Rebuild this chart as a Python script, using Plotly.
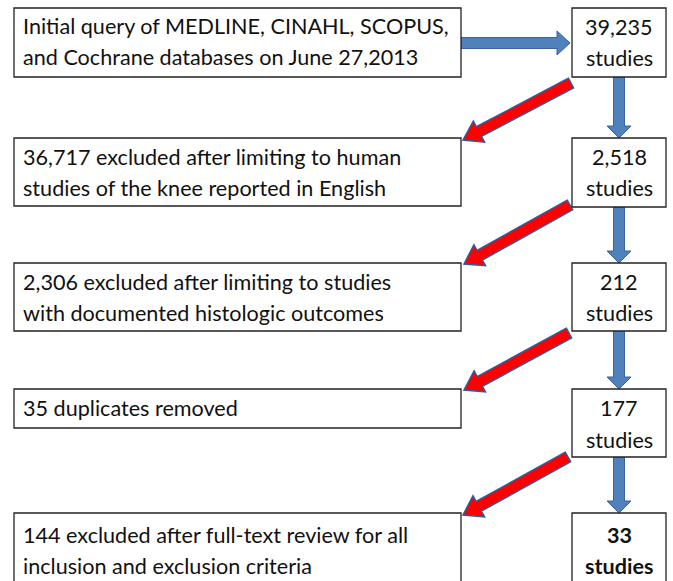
import math
import plotly.graph_objects as go

# ---- data ----
left_texts = [
    "Initial query of MEDLINE, CINAHL, SCOPUS,\nand Cochrane databases on June 27,2013",
    "36,717 excluded after limiting to human\nstudies of the knee reported in English",
    "2,306 excluded after limiting to studies\nwith documented histologic outcomes",
    "35 duplicates removed",
    "144 excluded after full-text review for all\ninclusion and exclusion criteria",
]
study_counts = ["39,235", "2,518", "212", "177", "33"]
count_suffix = "studies"

# ---- layout geometry ----
W, H = 673, 581
LX0, LX1 = 14, 461
RX0, RX1 = 572, 666
left_y = [(8, 77), (138, 206), (263, 331), (389, 428), (513, 600)]
right_y = [(8, 77), (138, 207), (263, 331), (389, 457), (513, 600)]
text_y = [(26, 57), (157, 188), (282, 313), (408, None), (535, 566)]
right_text_y = [(27, 58), (157, 188), (282, 313), (408, 440), (535, 566)]

FONT = "Lato, 'Open Sans', sans-serif"
FS = 21.6

fig = go.Figure()
shapes = []
annotations = []

def rect(x0, y0, x1, y1):
    return dict(type="rect", xref="x", yref="y", x0=x0, y0=y0, x1=x1, y1=y1,
                line=dict(color="#222222", width=1.3), fillcolor="white", layer="above")

def arrow_path(x0, y0, x1, y1, shaft_w, head_w, head_l):
    dx, dy = x1 - x0, y1 - y0
    L = math.hypot(dx, dy)
    ux, uy = dx / L, dy / L
    px, py = -uy, ux
    bx, by = x1 - ux * head_l, y1 - uy * head_l
    pts = [
        (x0 + px * shaft_w / 2, y0 + py * shaft_w / 2),
        (bx + px * shaft_w / 2, by + py * shaft_w / 2),
        (bx + px * head_w / 2, by + py * head_w / 2),
        (x1, y1),
        (bx - px * head_w / 2, by - py * head_w / 2),
        (bx - px * shaft_w / 2, by - py * shaft_w / 2),
        (x0 - px * shaft_w / 2, y0 - py * shaft_w / 2),
    ]
    return "M " + " L ".join(f"{x:.2f},{y:.2f}" for x, y in pts) + " Z"

# blue arrows
BLUE = "#4F81BD"
BLUE_EDGE = "#3B6398"
shapes.append(dict(type="path", xref="x", yref="y",
                   path=arrow_path(LX1, 43, RX0 - 2, 43, 11, 24, 13),
                   fillcolor=BLUE, line=dict(color=BLUE_EDGE, width=1)))
CX = 619
for i in range(4):
    shapes.append(dict(type="path", xref="x", yref="y",
                       path=arrow_path(CX, right_y[i][1], CX, right_y[i + 1][0], 11, 24, 12),
                       fillcolor=BLUE, line=dict(color=BLUE_EDGE, width=1)))

# red arrows
red_arrows = [((571, 83), (463, 140)), ((570, 205), (464, 264)),
              ((569, 333), (464, 390)), ((568, 457), (463, 515))]
for (sx, sy), (ex, ey) in red_arrows:
    shapes.append(dict(type="path", xref="x", yref="y",
                       path=arrow_path(sx, sy, ex, ey, 11, 24, 18),
                       fillcolor="#FF0000", line=dict(color="#2E5C9E", width=1.5)))

for i in range(5):
    y0, y1 = left_y[i]
    shapes.append(rect(LX0, y0, LX1, y1))
    y0, y1 = right_y[i]
    shapes.append(rect(RX0, y0, RX1, y1))

for i, txt in enumerate(left_texts):
    lines = txt.split("\n")
    for ln, ty in zip(lines, text_y[i]):
        annotations.append(dict(x=LX0 + 7, y=ty, xref="x", yref="y", text=ln,
                                showarrow=False, xanchor="left", yanchor="middle",
                                font=dict(family=FONT, size=FS, color="#111111")))
    bold = i == len(left_texts) - 1
    for ln, ty in zip([study_counts[i], count_suffix], right_text_y[i]):
        annotations.append(dict(x=(RX0 + RX1) / 2, y=ty, xref="x", yref="y",
                                text=f"<b>{ln}</b>" if bold else ln,
                                showarrow=False, xanchor="center", yanchor="middle",
                                font=dict(family=FONT, size=FS, color="#111111")))

fig.update_layout(
    width=W, height=H,
    margin=dict(l=0, r=0, t=0, b=0),
    paper_bgcolor="white", plot_bgcolor="white",
    xaxis=dict(range=[0, W], visible=False, fixedrange=True),
    yaxis=dict(range=[H, 0], visible=False, fixedrange=True),
    shapes=shapes, annotations=annotations, showlegend=False,
)
fig.write_html("out.html", config={"displayModeBar": False},
               post_script="document.body.style.margin='0';document.body.style.overflow='hidden';")
